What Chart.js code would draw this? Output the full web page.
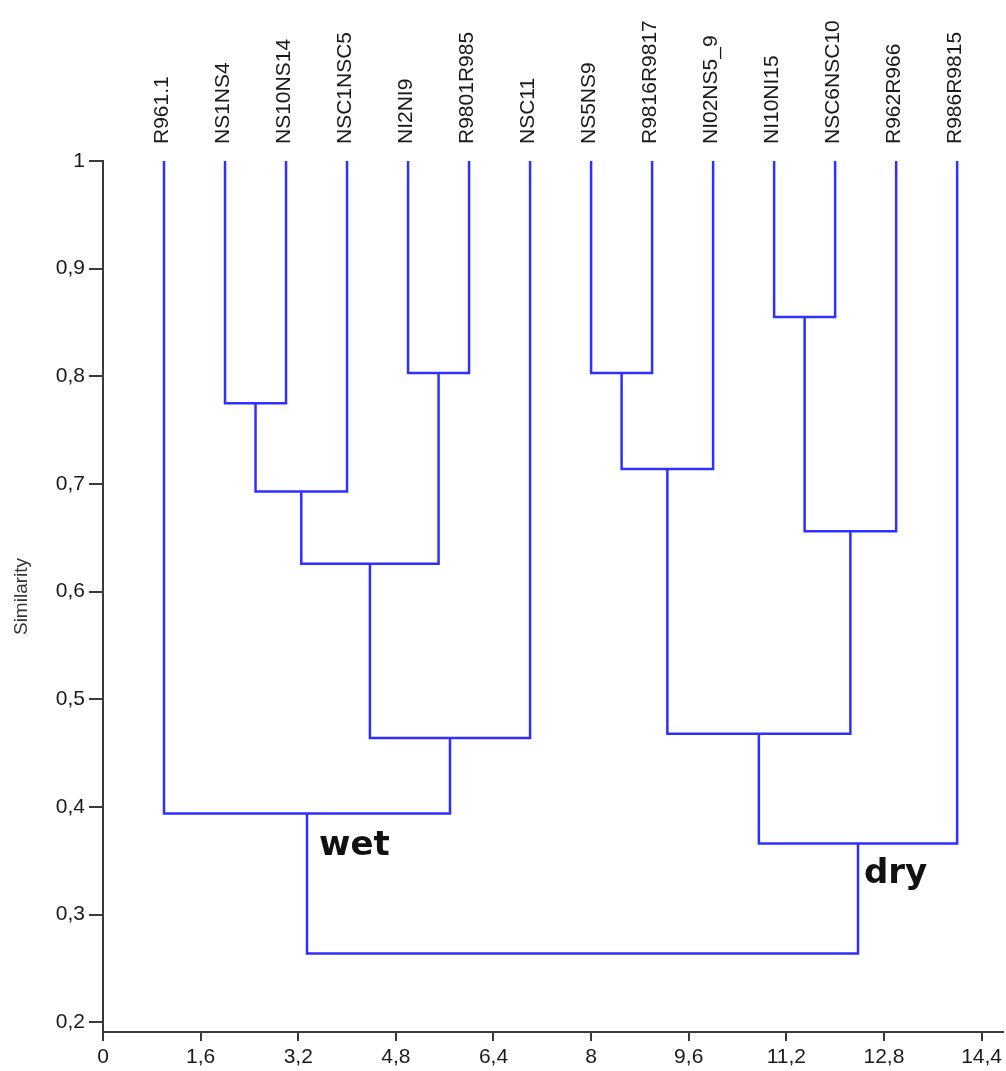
<!DOCTYPE html>
<html>
<head>
<meta charset="utf-8">
<title>Dendrograma</title>
<script src="https://cdn.jsdelivr.net/npm/chart.js@4.4.1/dist/chart.umd.min.js"></script>
<style>
  html, body { margin: 0; padding: 0; background: #fff; }
  canvas { display: block; }
</style>
</head>
<body>
<canvas id="grafico" width="1006" height="1071"></canvas>
<script>
// Folhas do dendrograma, na ordem do eixo x (posições 1..14)
const folhas = ['R961.1', 'NS1NS4', 'NS10NS14', 'NSC1NSC5', 'NI2NI9', 'R9801R985', 'NSC11',
    'NS5NS9', 'R9816R9817', 'NI02NS5_9', 'NI10NI15', 'NSC6NSC10', 'R962R966', 'R986R9815'];

// Fusões: filho esquerdo, filho direito (0-13 = folhas, 14+ = fusões) e similaridade
const fusaoEsq = [1, 14, 4, 15, 17, 0, 7, 20, 10, 22, 21, 24, 19];
const fusaoDir = [2, 3, 5, 16, 6, 18, 8, 9, 11, 12, 23, 13, 25];
const similaridade = [0.775, 0.693, 0.803, 0.626, 0.464, 0.394, 0.803, 0.714, 0.855, 0.656, 0.468, 0.366, 0.264];

// Rótulos dos eixos
const xTicks = [0, 1.6, 3.2, 4.8, 6.4, 8, 9.6, 11.2, 12.8, 14.4];
const yTicks = [0.2, 0.3, 0.4, 0.5, 0.6, 0.7, 0.8, 0.9, 1];

// Grupos marcados no gráfico (nó da fusão raiz de cada grupo)
const grupos = ['wet', 'dry'];
const grupoNo = [19, 25];

const azul = '#2f2fff';
const cinza = '#3a3a3a';

// Calcula a posição de cada nó
const noX = [];
const noY = [];
folhas.forEach((f, i) => {
    noX.push(i + 1);
    noY.push(1);
});
similaridade.forEach((h, k) => {
    noX.push((noX[fusaoEsq[k]] + noX[fusaoDir[k]]) / 2);
    noY.push(h);
});

// Um dataset por fusão (forma de "U" invertido)
const datasets = similaridade.map((h, k) => {
    const e = fusaoEsq[k];
    const d = fusaoDir[k];
    return {
        data: [
            { x: noX[e], y: noY[e] },
            { x: noX[e], y: h },
            { x: noX[d], y: h },
            { x: noX[d], y: noY[d] }
        ],
        showLine: true,
        borderColor: azul,
        borderWidth: 2.5,
        pointRadius: 0,
        tension: 0,
        fill: false,
        clip: false
    };
});

// Plugin para desenhar os nomes das folhas e os grupos
const rotulos = {
    id: 'rotulos',
    afterDraw(chart) {
        const ctx = chart.ctx;
        const sx = chart.scales.x;
        const sy = chart.scales.y;
        ctx.save();
        ctx.fillStyle = '#1a1a1a';
        ctx.font = '21px "Liberation Sans", Arial, sans-serif';
        ctx.textAlign = 'left';
        ctx.textBaseline = 'middle';
        folhas.forEach((nome, i) => {
            ctx.save();
            ctx.translate(sx.getPixelForValue(i + 1) - 2, sy.top - 17);
            ctx.rotate(-Math.PI / 2);
            ctx.fillText(nome, 0, 0);
            ctx.restore();
        });
        ctx.fillStyle = '#111';
        ctx.font = 'bold 34px "DejaVu Sans", sans-serif';
        ctx.textBaseline = 'alphabetic';
        const desloc = [[12, 42], [6, 39]];
        grupos.forEach((g, i) => {
            const no = grupoNo[i];
            ctx.fillText(g, sx.getPixelForValue(noX[no]) + desloc[i][0], sy.getPixelForValue(noY[no]) + desloc[i][1]);
        });
        ctx.restore();
    }
};

const virgula = v => String(v).replace('.', ',');

new Chart(document.getElementById('grafico'), {
    type: 'scatter',
    data: { datasets: datasets },
    options: {
        responsive: false,
        animation: false,
        layout: { padding: { top: 161, right: 0, bottom: 0, left: 0 } },
        plugins: {
            legend: { display: false },
            tooltip: { enabled: false }
        },
        scales: {
            x: {
                type: 'linear',
                min: 0,
                max: 14.75,
                afterBuildTicks: s => { s.ticks = xTicks.map(v => ({ value: v })); },
                afterFit: s => { s.height = 39; },
                ticks: {
                    autoSkip: false,
                    maxRotation: 0,
                    padding: 4,
                    color: '#1a1a1a',
                    font: { family: '"Liberation Sans", Arial, sans-serif', size: 21 },
                    callback: v => virgula(v)
                },
                grid: { drawOnChartArea: false, drawTicks: true, tickLength: 9, color: cinza, lineWidth: 2 },
                border: { display: true, color: cinza, width: 2 }
            },
            y: {
                type: 'linear',
                min: 0.191,
                max: 1,
                afterBuildTicks: s => { s.ticks = yTicks.map(v => ({ value: v })); },
                afterFit: s => { s.width = 103; },
                title: {
                    display: true,
                    text: 'Similarity',
                    color: '#333',
                    font: { family: '"Liberation Sans", Arial, sans-serif', size: 19 },
                    padding: { top: 10, bottom: 0 }
                },
                ticks: {
                    autoSkip: false,
                    padding: 4,
                    color: '#1a1a1a',
                    font: { family: '"Liberation Sans", Arial, sans-serif', size: 21 },
                    callback: v => virgula(v)
                },
                grid: { drawOnChartArea: false, drawTicks: true, tickLength: 14, color: cinza, lineWidth: 2 },
                border: { display: true, color: cinza, width: 2 }
            }
        }
    },
    plugins: [rotulos]
});
</script>
</body>
</html>
